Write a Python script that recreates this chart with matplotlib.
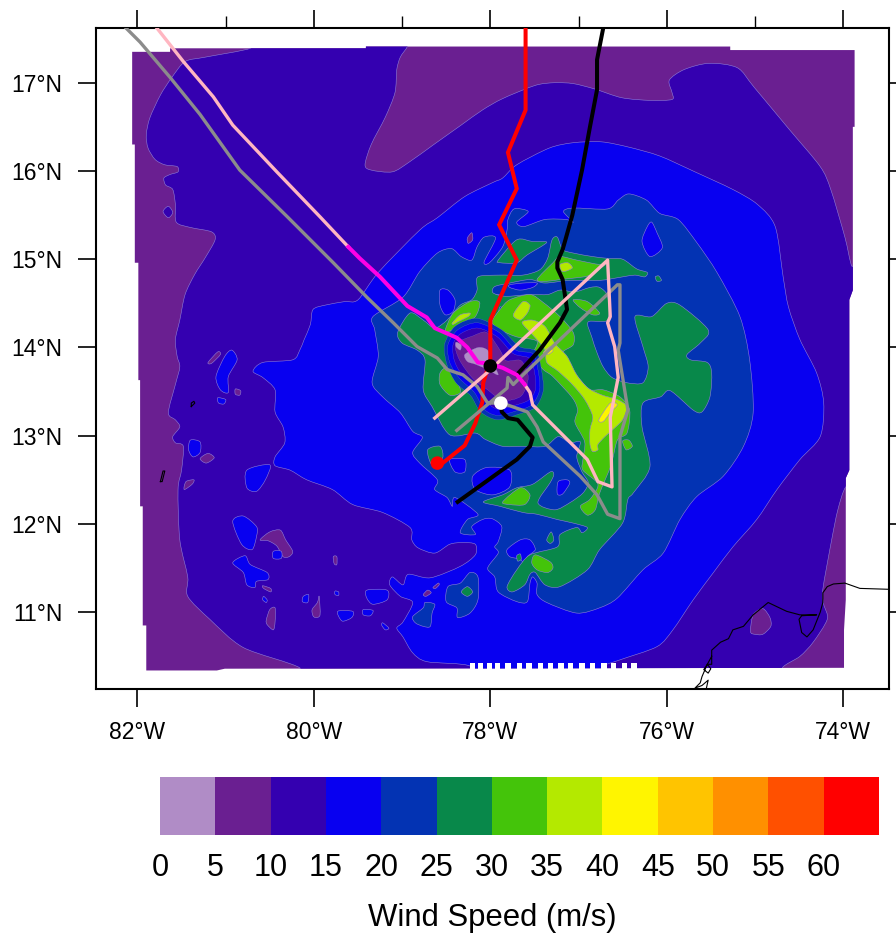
"""
Wind speed contours with flight tracks, drawn from outlines read off the map
"""
import matplotlib.pyplot as plt
import matplotlib as mtpl
from matplotlib.path import Path
from matplotlib.patches import PathPatch, Polygon
from matplotlib.colors import ListedColormap, BoundaryNorm
from matplotlib.cm import ScalarMappable
import numpy as np

mtpl.rcParams['font.family'] = ['Liberation Sans', 'DejaVu Sans']

levels = [0, 5, 10, 15, 20, 25, 30, 35, 40, 45, 50, 55, 60, 65]
level_colors = ['#B08CC6', '#6A1F91', '#3400B0', '#0800F0', '#0333B3', '#08884A', '#44C40A',
                '#B4E900', '#FFF500', '#FFC400', '#FF9000', '#FF5000', '#FF0000']
LIGHT, PURPLE, INDIGO, BLUE, DARK, GREEN, LIME, YLIME, YELLOW = level_colors[:9]

lon_ticks = [-82, -80, -78, -76, -74]
lon_minor = [-81, -79, -77, -75]
lat_ticks = [11, 12, 13, 14, 15, 16, 17]

# model domain, stepped edges
domain = [(-82.06,17.35),(-81.63,17.35),(-81.63,17.39),(-79.41,17.39),(-79.41,17.41),(-75.28,17.41),
          (-75.28,17.37),(-73.87,17.37),(-73.87,16.50),(-73.89,16.50),(-73.89,14.65),(-73.93,14.54),
          (-73.93,12.61),(-73.97,12.52),(-73.97,11.14),(-73.99,10.80),(-73.99,10.37),(-81.01,10.36),
          (-81.10,10.34),(-81.90,10.34),(-81.90,10.85),(-81.94,10.85),(-81.94,12.20),(-81.97,12.20),
          (-81.97,13.63),(-81.99,13.63),(-81.99,14.96),(-82.03,14.96),(-82.03,16.30),(-82.06,16.30)]

# white notches on the south edge
notch_lon = [-78.20,-78.11,-78.01,-77.92,-77.80,-77.67,-77.56,-77.43,-77.32,-77.20,-77.09,-76.96,
             -76.84,-76.71,-76.60,-76.48,-76.37]

indigo_main = [(-80.72,17.49),(-80.72,17.39),(-81.23,17.29),(-81.46,17.24),(-81.61,17.06),(-81.74,16.86),
    (-81.86,16.60),(-81.90,16.41),(-81.88,16.26),(-81.80,16.13),(-81.69,16.07),(-81.55,16.05),(-81.54,15.99),
    (-81.63,15.96),(-81.70,15.92),(-81.68,15.84),(-81.60,15.79),(-81.57,15.62),(-81.56,15.42),(-81.40,15.36),
    (-81.16,15.31),(-81.12,15.22),(-81.23,15.02),(-81.35,14.83),(-81.46,14.60),(-81.52,14.31),(-81.57,14.09),
    (-81.55,13.90),(-81.52,13.78),(-81.57,13.58),(-81.65,13.26),(-81.57,13.18),(-81.52,13.10),(-81.60,12.99),
    (-81.57,12.92),(-81.48,12.88),(-81.50,12.61),(-81.54,12.39),(-81.52,11.82),(-81.43,11.40),(-81.43,11.18),
    (-81.18,10.92),(-80.80,10.60),(-80.16,10.37),(-80.16,10.18),(-74.72,10.18),(-74.69,10.37),(-74.49,10.50),
    (-74.34,10.66),(-74.18,10.92),(-74.22,11.09),(-74.23,11.26),(-74.13,11.82),(-74.06,12.16),(-73.97,12.42),
    (-73.81,12.50),(-73.81,14.95),(-73.90,14.92),(-73.98,15.25),(-74.14,15.79),(-74.26,16.05),(-74.61,16.47),
    (-75.01,16.95),(-75.20,17.17),(-75.52,17.22),(-75.80,17.15),(-75.97,17.03),(-75.94,16.89),(-75.94,16.81),
    (-76.19,16.80),(-76.51,16.83),(-76.82,16.93),(-77.06,16.99),(-77.27,17.00),(-77.49,16.97),(-77.86,16.82),
    (-78.09,16.69),(-78.33,16.52),(-78.64,16.30),(-78.92,16.10),(-79.11,15.99),(-79.35,16.01),(-79.42,16.07),
    (-79.35,16.30),(-79.19,16.61),(-79.08,16.89),(-79.06,17.15),(-79.02,17.29),(-78.94,17.41),(-78.94,17.49)]

blue_main = [(-79.27,14.85),(-78.80,15.33),(-78.60,15.47),(-78.29,15.71),(-77.97,15.87),(-77.86,15.92),
    (-77.70,16.07),(-77.33,16.26),(-77.06,16.32),(-76.74,16.33),(-76.43,16.27),(-76.08,16.17),(-75.68,15.99),
    (-75.25,15.79),(-74.97,15.62),(-74.77,15.37),(-74.68,14.80),(-74.62,14.46),(-74.49,14.09),(-74.30,13.71),
    (-74.22,13.37),(-74.26,12.99),(-74.49,12.73),(-74.75,12.39),(-74.98,12.05),(-75.25,11.74),(-75.47,11.45),
    (-75.70,11.14),(-75.93,10.80),(-76.11,10.61),(-76.53,10.46),(-76.72,10.38),(-76.72,10.18),(-78.23,10.18),
    (-78.23,10.39),(-78.72,10.44),(-78.88,10.54),(-78.99,10.72),(-79.06,10.82),(-78.99,10.89),(-78.88,11.11),
    (-79.02,11.18),(-79.14,11.31),(-79.11,11.40),(-78.99,11.31),(-78.93,11.43),(-78.68,11.39),(-78.34,11.52),
    (-78.17,11.65),(-78.17,11.77),(-78.31,11.79),(-78.46,11.77),(-78.63,11.67),(-78.82,11.73),(-78.89,11.82),
    (-78.91,11.96),(-79.22,12.13),(-79.56,12.22),(-79.79,12.39),(-80.08,12.50),(-80.27,12.61),(-80.44,12.66),
    (-80.44,12.76),(-80.33,12.92),(-80.35,13.10),(-80.44,13.27),(-80.44,13.52),(-80.58,13.66),(-80.69,13.73),
    (-80.58,13.83),(-80.24,13.86),(-80.16,13.97),(-80.11,14.09),(-80.04,14.26),(-80.01,14.43),(-79.87,14.48),
    (-79.65,14.52),(-79.50,14.54)]

dark_main = [(-79.33,14.35),(-78.99,14.57),(-78.80,14.86),(-78.60,15.07),(-78.44,15.12),(-78.33,15.03),
    (-78.21,14.99),(-78.15,15.14),(-78.07,15.25),(-77.94,15.24),(-78.07,14.97),(-78.01,14.96),(-77.86,15.14),
    (-77.81,15.33),(-77.80,15.45),(-77.73,15.57),(-77.57,15.54),(-77.70,15.42),(-77.62,15.37),(-77.38,15.45),
    (-77.14,15.45),(-77.06,15.42),(-77.17,15.54),(-77.06,15.58),(-76.67,15.57),(-76.55,15.67),(-76.43,15.74),
    (-76.23,15.67),(-76.08,15.52),(-75.87,15.45),(-75.66,15.19),(-75.43,14.85),(-75.17,14.35),(-75.06,13.86),
    (-75.02,13.26),(-75.13,12.88),(-75.36,12.54),(-75.66,12.31),(-75.85,12.05),(-76.04,11.67),(-76.27,11.48),
    (-76.56,11.16),(-76.76,11.05),(-77.02,10.99),(-77.36,11.11),(-77.47,11.20),(-77.47,11.33),(-77.52,11.40),
    (-77.55,11.33),(-77.58,11.12),(-77.70,11.12),(-77.91,11.23),(-77.95,11.40),(-78.03,11.50),(-77.91,11.67),
    (-77.95,11.74),(-77.91,11.80),(-77.87,11.97),(-77.98,12.06),(-78.09,12.05),(-78.21,11.97),(-78.17,11.88),
    (-78.34,11.90),(-78.26,12.05),(-78.14,12.11),(-78.40,12.30),(-78.43,12.20),(-78.49,12.30),(-78.63,12.39),
    (-78.60,12.50),(-78.80,12.69),(-78.88,12.81),(-78.77,12.98),(-78.88,13.05),(-79.02,13.26),(-79.22,13.44),
    (-79.34,13.60),(-79.27,13.90),(-79.31,14.20)]

green_main = [(-79.05,14.17),(-78.91,14.39),(-78.76,14.31),(-78.63,14.22),(-78.49,14.31),(-78.34,14.48),
    (-78.21,14.54),(-78.15,14.65),(-78.14,14.80),(-77.89,14.82),(-77.63,14.82),(-77.44,14.88),(-77.35,15.01),
    (-77.30,15.22),(-77.24,15.25),(-77.18,15.11),(-77.06,15.07),(-76.84,15.03),(-76.67,15.01),(-76.50,15.00),
    (-76.34,14.89),(-76.22,14.85),(-76.25,14.80),(-76.36,14.82),(-76.50,14.80),(-76.76,14.76),(-77.10,14.76),
    (-77.38,14.73),(-77.55,14.77),(-77.78,14.73),(-77.95,14.69),(-77.97,14.62),(-77.83,14.58),(-77.55,14.60),
    (-77.35,14.60),(-77.21,14.65),(-77.04,14.63),(-76.87,14.68),(-76.76,14.68),(-76.67,14.58),(-76.67,14.31),
    (-76.89,14.29),(-76.85,14.12),(-76.79,13.94),(-76.72,13.78),(-76.62,13.66),(-76.45,13.60),(-76.27,13.60),
    (-76.21,13.78),(-76.27,14.01),(-76.36,14.35),(-76.17,14.35),(-76.00,14.50),(-75.85,14.48),(-75.53,14.20),
    (-75.62,14.05),(-75.77,13.92),(-75.73,13.86),(-75.54,13.83),(-75.49,13.71),(-75.51,13.44),(-75.60,13.27),
    (-75.70,13.29),(-75.96,13.51),(-76.07,13.44),(-76.27,13.37),(-76.28,13.10),(-76.19,12.65),(-76.38,12.35),
    (-76.44,12.28),(-76.50,12.01),(-76.76,11.71),(-76.90,11.48),(-77.21,11.29),(-77.38,11.31),(-77.49,11.45),
    (-77.55,11.43),(-77.61,11.31),(-77.75,11.23),(-77.81,11.29),(-77.70,11.48),(-77.55,11.65),(-77.24,11.74),
    (-77.21,11.88),(-77.02,11.96),(-76.96,11.90),(-76.90,11.96),(-77.06,12.01),(-77.24,12.05),(-77.47,12.11),
    (-77.63,12.13),(-77.89,12.20),(-78.08,12.25),(-77.86,12.33),(-77.70,12.41),(-77.52,12.45),(-77.32,12.59),
    (-77.28,12.56),(-77.32,12.47),(-77.46,12.24),(-77.27,12.16),(-77.10,12.24),(-76.95,12.35),(-76.89,12.47),
    (-76.96,12.59),(-77.02,12.76),(-76.98,12.93),(-77.10,12.92),(-77.23,12.99),(-77.38,12.88),(-77.63,12.88),
    (-77.86,12.88),(-78.06,12.96),(-78.17,13.03),(-78.46,13.01),(-78.66,13.33),(-78.76,13.52),(-78.74,13.86),
    (-78.83,13.97),(-79.00,14.05)]

lime_centre = [(-77.98,14.29),(-77.89,14.43),(-77.78,14.54),(-77.55,14.60),(-77.40,14.51),(-77.21,14.35),
    (-77.06,14.17),(-77.06,14.03),(-77.18,13.94),(-77.10,13.78),(-76.98,13.63),(-76.87,13.52),(-76.72,13.52),
    (-76.53,13.44),(-76.42,13.29),(-76.45,13.03),(-76.56,12.95),(-76.63,12.67),(-76.76,12.35),(-76.81,12.16),
    (-76.90,12.10),(-76.98,12.20),(-76.87,12.28),(-76.78,12.45),(-76.95,12.61),(-76.95,12.73),(-76.93,12.93),
    (-77.04,13.15),(-77.01,13.29),(-77.07,13.43),(-77.29,13.67),(-77.40,13.75),(-77.52,13.90),(-77.47,14.07),
    (-77.70,14.12),(-77.89,14.20)]

ylime_centre = [(-77.64,14.28),(-77.52,14.31),(-77.38,14.24),(-77.27,14.05),(-77.13,13.90),(-77.02,13.69),
    (-76.89,13.54),(-76.73,13.46),(-76.56,13.41),(-76.45,13.33),(-76.50,13.18),(-76.61,13.07),(-76.70,12.99),
    (-76.78,12.90),(-76.78,12.84),(-76.84,12.82),(-76.87,12.90),(-76.87,13.07),(-76.84,13.22),(-76.93,13.41),
    (-77.07,13.58),(-77.23,13.73),(-77.36,13.83),(-77.38,13.97),(-77.49,14.11)]

# eye of the storm, outside in
eye_dark = [(-78.52,14.03),(-78.40,14.24),(-78.15,14.33),(-77.87,14.20),(-77.67,14.01),(-77.48,13.96),(-77.42,13.75),
    (-77.40,13.51),(-77.49,13.32),(-77.69,13.24),(-77.92,13.18),(-78.11,13.27),(-78.22,13.45),(-78.39,13.60),(-78.49,13.80)]
eye_blue = [(-78.48,14.03),(-78.37,14.20),(-78.15,14.28),(-77.90,14.17),(-77.71,13.97),(-77.52,13.93),(-77.46,13.75),
    (-77.44,13.52),(-77.53,13.35),(-77.71,13.28),(-77.92,13.23),(-78.07,13.30),(-78.18,13.49),(-78.35,13.65),(-78.46,13.83)]
eye_indigo = [(-78.42,14.04),(-78.33,14.16),(-78.14,14.22),(-77.92,14.12),(-77.74,13.93),(-77.56,13.88),(-77.50,13.73),
    (-77.49,13.52),(-77.57,13.40),(-77.74,13.34),(-77.91,13.30),(-78.03,13.37),(-78.14,13.53),(-78.32,13.69),(-78.41,13.86)]
eye_purple = [(-78.39,14.04),(-78.20,14.13),(-78.04,14.17),(-77.89,13.97),(-77.82,13.85),(-77.65,13.85),(-77.57,13.66),
    (-77.65,13.45),(-77.86,13.40),(-78.03,13.52),(-78.20,13.65),(-78.35,13.86)]
eye_light = [(-78.29,13.92),(-78.14,14.00),(-78.03,13.97),(-77.98,13.84),(-77.91,13.69),(-78.03,13.75),(-78.17,13.81),(-78.26,13.84)]
eye_light2 = [(-78.39,14.06),(-78.33,14.03),(-78.34,13.97),(-78.39,14.01)]

blue_islands = [
    [(-80.93,13.97),(-80.87,13.86),(-80.97,13.67),(-80.97,13.49),(-81.06,13.52),(-81.11,13.67),(-81.01,13.90)],
    [(-81.40,12.95),(-81.29,12.93),(-81.29,12.81),(-81.37,12.76),(-81.42,12.84)],
    [(-80.76,12.61),(-80.50,12.67),(-80.55,12.50),(-80.65,12.37),(-80.76,12.41)],
    [(-80.92,12.03),(-80.80,12.09),(-80.65,11.97),(-80.65,11.86),(-80.70,11.71),(-80.82,11.77)],
    [(-80.92,11.56),(-80.78,11.64),(-80.72,11.54),(-80.53,11.45),(-80.52,11.37),(-80.65,11.35),(-80.67,11.28),(-80.76,11.31),(-80.80,11.45)],
    [(-79.40,11.25),(-79.17,11.25),(-79.17,11.14),(-79.33,11.09),(-79.40,11.16)],
    [(-79.73,11.01),(-79.56,11.01),(-79.57,10.94),(-79.68,10.90)],
    [(-79.44,11.03),(-79.33,11.02),(-79.36,10.96),(-79.44,10.97)],
    [(-80.12,11.18),(-80.06,11.20),(-80.07,11.11),(-80.13,11.12)],
    [(-80.46,11.69),(-80.37,11.69),(-80.37,11.61),(-80.46,11.61)],
    [(-79.22,10.88),(-79.15,10.82),(-79.19,10.80),(-79.23,10.85)],
    [(-81.09,13.43),(-81.00,13.41),(-81.02,13.36),(-81.08,13.37)],
    [(-79.76,11.24),(-79.72,11.23),(-79.72,11.19),(-79.76,11.20)],
    [(-80.57,11.18),(-80.53,11.14),(-80.54,11.11),(-80.58,11.14)]]

purple_islands = [
    [(-81.20,13.83),(-81.09,13.95),(-81.06,13.92),(-81.16,13.82)],
    [(-80.89,13.53),(-80.83,13.51),(-80.84,13.46),(-80.89,13.47)],
    [(-81.29,12.74),(-81.20,12.80),(-81.13,12.75),(-81.22,12.69)],
    [(-81.47,12.39),(-81.45,12.48),(-81.36,12.50),(-81.38,12.45)],
    [(-80.61,11.82),(-80.50,11.91),(-80.38,11.93),(-80.32,11.82),(-80.24,11.69),(-80.28,11.63),(-80.35,11.63),(-80.42,11.75),(-80.52,11.81)],
    [(-79.78,11.63),(-79.74,11.63),(-79.74,11.54),(-79.77,11.55)],
    [(-80.54,10.91),(-80.50,11.03),(-80.44,11.05),(-80.44,10.89),(-80.46,10.80),(-80.53,10.86)],
    [(-80.02,11.03),(-79.96,11.11),(-79.94,11.18),(-79.93,10.97),(-79.98,10.94),(-80.01,10.96)],
    [(-80.58,11.30),(-80.49,11.27),(-80.49,11.23),(-80.57,11.27)],
    [(-75.05,10.78),(-75.02,10.97),(-74.91,11.04),(-74.83,10.94),(-74.82,10.84),(-74.91,10.75),(-75.00,10.75)]]

purple_on_blue = [
    [(-78.65,11.28),(-78.59,11.33),(-78.58,11.31),(-78.62,11.27)],
    [(-78.76,11.20),(-78.71,11.25),(-78.67,11.22),(-78.73,11.18)],
    [(-78.26,15.24),(-78.21,15.30),(-78.20,15.22),(-78.25,15.18)]]

dark_islands = [
    [(-78.50,11.12),(-78.48,11.29),(-78.34,11.33),(-78.23,11.45),(-78.14,11.40),(-78.14,11.14),(-78.23,10.99),(-78.37,10.94),(-78.38,11.05)],
    [(-78.88,10.95),(-78.76,11.05),(-78.74,11.11),(-78.63,11.09),(-78.66,10.99),(-78.68,10.84),(-78.76,10.84),(-78.85,10.88)]]

blue_holes = [
    [(-78.57,14.65),(-78.48,14.65),(-78.40,14.54),(-78.42,14.41),(-78.51,14.37),(-78.57,14.48)],
    [(-76.17,15.42),(-76.11,15.30),(-76.05,15.13),(-76.19,15.03),(-76.28,15.20),(-76.22,15.37)],
    [(-78.20,12.54),(-78.04,12.64),(-77.78,12.61),(-77.78,12.42),(-77.97,12.33),(-78.17,12.39)],
    [(-78.46,12.73),(-78.29,12.73),(-78.29,12.59),(-78.40,12.59)],
    [(-77.81,11.71),(-77.66,11.82),(-77.55,11.82),(-77.49,11.71),(-77.58,11.63),(-77.61,11.54),(-77.66,11.60),(-77.78,11.63)],
    [(-77.78,14.71),(-77.63,14.73),(-77.47,14.73),(-77.52,14.68),(-77.66,14.65),(-77.78,14.68)],
    [(-77.98,14.58),(-77.89,14.60),(-77.89,14.53),(-77.97,14.52)]]

green_patches = [
    [(-77.91,14.99),(-77.70,15.22),(-77.52,15.20),(-77.36,15.19),(-77.58,15.05),(-77.70,14.96),(-77.89,14.96)],
    [(-78.71,12.84),(-78.57,12.88),(-78.54,12.75),(-78.66,12.67)],
    [(-78.33,11.23),(-78.26,11.29),(-78.20,11.23),(-78.26,11.18)],
    [(-76.13,14.80),(-76.09,14.81),(-76.06,14.76),(-76.11,14.75)],
    [(-77.36,11.82),(-77.31,11.91),(-77.28,11.82),(-77.32,11.78)],
    [(-77.70,11.64),(-77.66,11.66),(-77.65,11.60),(-77.69,11.58)]]

dark_on_green = [(-77.89,14.46),(-77.81,14.41),(-77.83,14.34),(-77.90,14.36)]
blue_on_green = [(-77.23,12.48),(-77.13,12.50),(-77.10,12.46),(-77.18,12.34),(-77.24,12.34)]
indigo_hole = [(-81.71,15.54),(-81.65,15.60),(-81.60,15.53),(-81.65,15.47)]

lime_patches = [
    [(-78.51,14.20),(-78.42,14.39),(-78.23,14.52),(-78.12,14.51),(-78.17,14.35),(-78.34,14.24),(-78.48,14.18)],
    [(-78.57,13.71),(-78.49,13.77),(-78.38,13.63),(-78.34,13.49),(-78.46,13.46),(-78.57,13.58)],
    [(-77.47,14.77),(-77.29,14.96),(-77.21,15.03),(-77.02,14.99),(-76.76,14.94),(-76.67,14.96),(-76.87,14.82),(-77.02,14.79),(-77.21,14.77),(-77.36,14.75)],
    [(-77.06,14.54),(-76.90,14.52),(-76.76,14.39),(-76.84,14.37),(-76.98,14.45)],
    [(-76.50,12.94),(-76.43,12.95),(-76.39,12.88),(-76.46,12.84)],
    [(-77.86,12.25),(-77.66,12.41),(-77.55,12.33),(-77.61,12.22),(-77.78,12.22)],
    [(-77.53,11.56),(-77.49,11.65),(-77.32,11.57),(-77.29,11.50),(-77.35,11.45),(-77.47,11.48)]]

ylime_patches = [
    [(-78.43,14.28),(-78.34,14.37),(-78.23,14.39),(-78.25,14.35),(-78.37,14.29),(-78.42,14.26)],
    [(-77.21,14.94),(-77.12,14.96),(-77.07,14.90),(-77.18,14.86)],
    [(-77.74,14.37),(-77.63,14.52),(-77.55,14.48),(-77.58,14.39),(-77.66,14.31)]]

yellow_patches = [
    [(-76.77,13.18),(-76.64,13.37),(-76.56,13.35),(-76.64,13.26),(-76.72,13.16)],
    [(-77.40,13.94),(-77.32,14.01),(-77.29,13.96),(-77.35,13.92)]]

# coast
coast_lon = [-73.49,-73.81,-73.98,-74.11,-74.18,-74.23,-74.23,-74.26,-74.34,-74.41,-74.47,-74.50,-74.47,-74.30,
             -74.49,-74.64,-74.85,-75.02,-75.13,-75.25,-75.30,-75.39,-75.49,-75.49,-75.54,-75.49,-75.49]
coast_lat = [11.26,11.27,11.33,11.32,11.29,11.22,11.11,11.00,10.80,10.72,10.77,10.92,10.96,10.97,
             10.97,11.01,11.11,10.97,10.84,10.80,10.70,10.66,10.57,10.50,10.41,10.41,10.50]
coast2_lon = [-75.54,-75.50,-75.53,-75.58,-75.54,-75.60,-75.62,-75.68,-75.60,-75.53,-75.55]
coast2_lat = [10.41,10.36,10.31,10.35,10.41,10.27,10.20,10.14,10.17,10.23,10.14]
isle1_lon = [-81.39,-81.35,-81.36,-81.39,-81.39]
isle1_lat = [13.33,13.37,13.39,13.37,13.33]
isle2_lon = [-81.74,-81.71,-81.69,-81.72,-81.74]
isle2_lat = [12.48,12.60,12.60,12.48,12.48]

# tracks
red_lon = [-77.60,-77.60,-77.80,-77.70,-77.90,-77.70,-78.00,-78.00,-78.08,-78.09,-78.17,-78.29,-78.54,-78.60]
red_lat = [17.70,16.69,16.21,15.80,15.39,14.99,14.31,13.86,13.60,13.38,13.14,12.89,12.69,12.69]
black1_lon = [-76.71,-76.79,-76.79,-76.87,-76.96,-77.07,-77.14,-77.18,-77.24,-77.24,-77.18,-77.13,-77.21,-77.44,-77.70]
black1_lat = [17.67,17.26,16.92,16.50,16.01,15.50,15.25,15.11,14.97,14.90,14.77,14.43,14.28,13.97,13.69]
black2_lon = [-77.88,-77.87,-77.80,-77.69,-77.52,-77.55,-77.70,-78.37]
black2_lat = [13.37,13.27,13.20,13.18,12.98,12.88,12.73,12.25]
pink1_lon = [-81.85,-81.78,-81.48,-81.14,-80.92,-80.42,-79.93,-79.61]
pink1_lat = [17.70,17.62,17.24,16.84,16.52,15.99,15.48,15.14]
magenta_lon = [-79.61,-79.48,-79.25,-78.94,-78.72,-78.63,-78.38,-78.26,-78.14,-78.03,-77.86,-77.70,-77.61]
magenta_lat = [15.14,15.01,14.80,14.47,14.34,14.22,14.11,14.00,13.83,13.82,13.77,13.69,13.58]
pink2_lon = [-77.61,-77.55,-77.52,-76.90,-76.78,-76.62,-76.64,-76.55,-76.59,-76.67,-76.64,-76.67,-78.03,-78.63]
pink2_lat = [13.58,13.49,13.35,12.73,12.48,12.42,13.21,13.66,14.01,14.28,14.35,14.99,13.72,13.20]
gray_lon = [-82.20,-82.13,-81.97,-81.63,-81.29,-80.84,-80.30,-79.78,-79.39,-79.10,-78.83,-78.60,-78.49,-78.31,-78.15,-78.03,
            -77.88,-77.81,-77.58,-77.47,-77.40,-76.98,-76.79,-76.67,-76.53,-76.53,-76.44,-76.55,-76.53,-76.53,-76.56,
            -77.66,-77.74,-77.80,-77.81,-78.38]
gray_lat = [17.70,17.62,17.46,17.06,16.64,16.01,15.48,14.96,14.56,14.28,14.01,13.88,13.75,13.69,13.56,13.37,
            13.37,13.35,13.27,13.10,12.93,12.54,12.33,12.11,12.06,12.99,13.29,13.97,14.05,14.71,14.71,
            13.66,13.58,13.66,13.54,13.06]
dot_lon = [-78.60, -78.00, -77.88]
dot_lat = [12.69, 13.79, 13.37]
dot_colors = ['#FF0000', 'black', 'white']


def blob(ax, points, color, clip, lw=0.4):
    pts = np.array(points)
    tan = (np.roll(pts, -1, axis=0) - np.roll(pts, 1, axis=0)) / 7
    verts = [pts[0]]
    codes = [Path.MOVETO]
    for i in range(len(pts)):
        j = (i + 1) % len(pts)
        verts += [pts[i] + tan[i], pts[j] - tan[j], pts[j]]
        codes += [Path.CURVE4] * 3
    patch = PathPatch(Path(verts, codes), facecolor=color, edgecolor='#8f7fd8', lw=lw)
    ax.add_patch(patch)
    patch.set_clip_path(clip)


fig = plt.figure(figsize=(8.96, 9.34), dpi=100)
ax = fig.add_axes([96/896, 1-689/934, (889-96)/896, (689-28)/934])

region = Polygon(domain, closed=True, facecolor=PURPLE, edgecolor='none')
ax.add_patch(region)

layers = [(indigo_main, INDIGO), (indigo_hole, INDIGO)]
layers += [(p, PURPLE) for p in purple_islands]
layers += [(blue_main, BLUE)]
layers += [(p, BLUE) for p in blue_islands]
layers += [(p, PURPLE) for p in purple_on_blue]
layers += [(dark_main, DARK)]
layers += [(p, DARK) for p in dark_islands]
layers += [(p, BLUE) for p in blue_holes]
layers += [(green_main, GREEN)]
layers += [(p, GREEN) for p in green_patches]
layers += [(dark_on_green, DARK), (blue_on_green, BLUE)]
layers += [(lime_centre, LIME)]
layers += [(p, LIME) for p in lime_patches]
layers += [(ylime_centre, YLIME)]
layers += [(p, YLIME) for p in ylime_patches]
layers += [(p, YELLOW) for p in yellow_patches]
for pts, col in layers:
    blob(ax, pts, col, region)

# the rings of the eye sit close together, keep their lines faint
for pts, col in [(eye_dark, DARK), (eye_blue, BLUE), (eye_indigo, INDIGO), (eye_purple, PURPLE),
                 (eye_light, LIGHT), (eye_light2, LIGHT)]:
    blob(ax, pts, col, region, lw=0.15)

ax.bar(notch_lon, 0.12, width=0.06, bottom=10.30, color='white', zorder=3)

for lo, la in [(coast_lon, coast_lat), (coast2_lon, coast2_lat), (isle1_lon, isle1_lat), (isle2_lon, isle2_lat)]:
    ax.plot(lo, la, color='black', lw=0.8, zorder=4)

ax.plot(red_lon, red_lat, color='#FF0000', lw=2.9, zorder=5, solid_joinstyle='miter')
ax.plot(black1_lon, black1_lat, color='black', lw=2.9, zorder=5)
ax.plot(black2_lon, black2_lat, color='black', lw=2.9, zorder=5)
ax.plot(gray_lon, gray_lat, color='#8C8C8C', lw=2.4, zorder=6)
ax.plot(pink1_lon, pink1_lat, color='#FFB6C1', lw=2.4, zorder=7)
ax.plot(pink2_lon, pink2_lat, color='#FFB6C1', lw=2.4, zorder=7)
ax.plot(magenta_lon, magenta_lat, color='#FF00E6', lw=2.9, zorder=8)
ax.scatter(dot_lon, dot_lat, s=95, c=dot_colors, linewidths=0, zorder=9)

ax.set_xlim(-82.47, -73.48)
ax.set_ylim(10.13, 17.62)
ax.set_xticks(lon_ticks)
ax.set_xticklabels(['%d°W' % abs(v) for v in lon_ticks])
ax.set_xticks(lon_minor, minor=True)
ax.set_yticks(lat_ticks)
ax.set_yticklabels(['%d°N' % v for v in lat_ticks])
ax.tick_params(axis='both', which='major', direction='out', length=13, width=1.2, labelsize=16.5,
               top=True, right=True)
ax.tick_params(axis='x', which='major', pad=10)
ax.tick_params(axis='y', which='major', pad=11)
ax.tick_params(axis='x', which='minor', direction='out', length=8.5, width=1.0, top=True, bottom=False)
for side in ax.spines.values():
    side.set_linewidth(1.5)

cax = fig.add_axes([160/896, 1-835/934, (879-160)/896, 58/934])
cmap = ListedColormap(level_colors)
norm = BoundaryNorm(levels, cmap.N)
cb = fig.colorbar(ScalarMappable(norm=norm, cmap=cmap), cax=cax, orientation='horizontal',
                  ticks=levels[:-1], spacing='proportional')
cb.outline.set_visible(False)
cb.ax.tick_params(length=0, labelsize=22, pad=13)
cb.ax.minorticks_off()
cb.set_label('Wind Speed (m/s)', fontsize=22.4)
cb.ax.xaxis.set_label_coords(0.462, -1.17)

fig.savefig('out.png', dpi=100)
